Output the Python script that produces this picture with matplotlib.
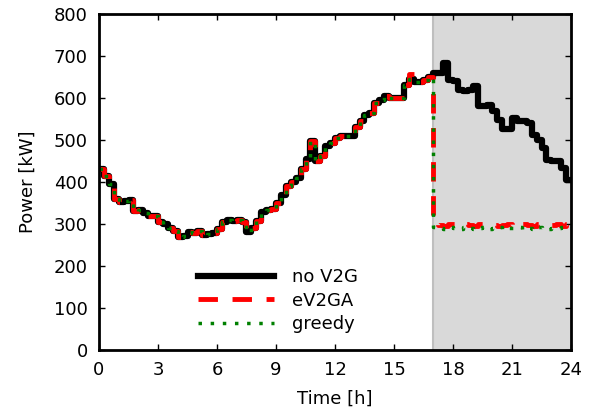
import numpy as np
import matplotlib
matplotlib.use("Agg")
import matplotlib.pyplot as plt

# 15-minute resolution, 96 intervals
t_start = np.arange(96) * 0.25

no_v2g = [430, 415, 395, 360, 352, 355, 358, 332, 333, 325, 320, 320,
          305, 300, 290, 283, 268, 272, 281, 278, 283, 273, 275, 278,
          288, 305, 310, 308, 310, 305, 282, 290, 308, 328, 333, 335,
          350, 370, 390, 400, 410, 430, 455, 497, 450, 462, 485, 493,
          505, 509, 509, 509, 532, 545, 560, 565, 588, 596, 604, 600,
          600, 600, 632, 645, 637, 638, 642, 650, 660, 660, 684, 644,
          640, 620, 616, 618, 628, 580, 582, 584, 568, 548, 525, 525,
          552, 545, 545, 540, 512, 500, 481, 453, 449, 449, 433, 405]

ev2ga_tail = [300, 298, 296, 299, 301, 297, 300, 298, 296, 300, 299, 301,
              297, 295, 298, 300, 296, 299, 301, 298, 295, 299, 300, 297,
              298, 300, 296, 299]
greedy_tail = [292, 290, 288, 293, 291, 289, 292, 290, 287, 291, 293, 289,
               290, 292, 288, 291, 290, 293, 289, 291, 288, 292, 290, 289,
               291, 290, 292, 290]

ev2ga = no_v2g[:68] + ev2ga_tail
ev2ga[63] = 656
greedy = no_v2g[:68] + greedy_tail

x = np.append(t_start, 24.0)


def stepped(vals):
    return np.append(vals, vals[-1])


fig = plt.figure(figsize=(5.97, 4.19), dpi=100)
ax = fig.add_axes([99 / 597, 1 - 350 / 419, (571 - 99) / 597, (350 - 14) / 419])

ax.axvspan(17, 24, color='#d9d9d9', zorder=0)
ax.axvline(17, color='#bfbfbf', lw=1.5, zorder=0)

ax.step(x, stepped(no_v2g), where='post', color='black', lw=4.5, label='no V2G')
ax.step(x, stepped(ev2ga), where='post', color='red', lw=3.5, dashes=(4, 3), label='eV2GA')
ax.step(x, stepped(greedy), where='post', color='green', lw=2.5, dashes=(1, 2.5), label='greedy')

ax.set_xlim(0, 24)
ax.set_ylim(0, 800)
ax.set_xticks(range(0, 25, 3))
ax.set_yticks(range(0, 801, 100))
ax.tick_params(direction='in', top=True, right=True, length=4, width=1, labelsize=13, pad=8)
for s in ax.spines.values():
    s.set_linewidth(2)
ax.set_xlabel('Time [h]', fontsize=13, labelpad=8)
ax.set_ylabel('Power [kW]', fontsize=13, labelpad=12)

ax.legend(loc='lower left', bbox_to_anchor=(0.175, 0.002), frameon=False, fontsize=13,
          handlelength=4.2, labelspacing=0.3, handletextpad=1.0)

fig.savefig('out.png', dpi=100)
